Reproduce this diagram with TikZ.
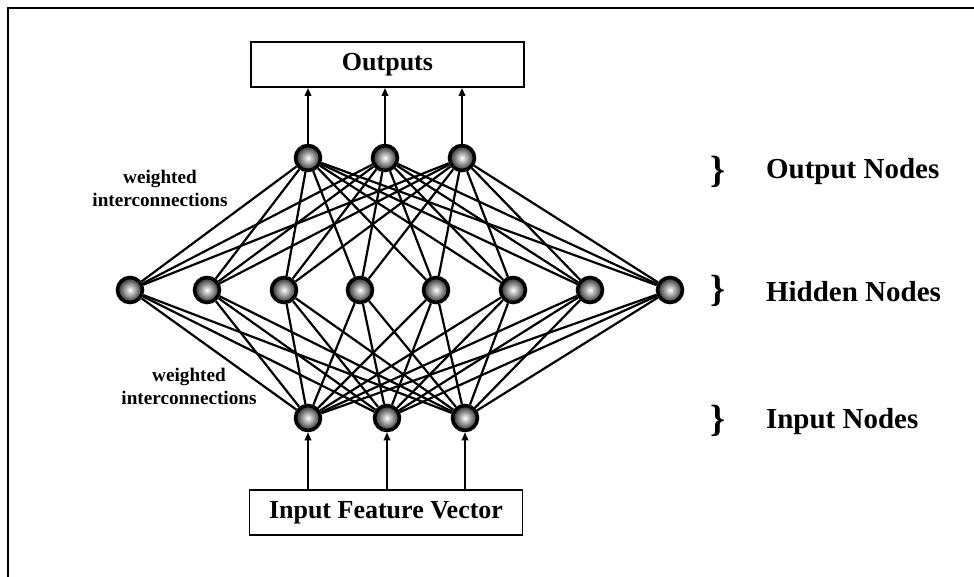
\documentclass[tikz,border=0pt]{standalone}
\usepackage{fontspec}
\setmainfont{Liberation Serif}
\usetikzlibrary{arrows.meta}
\begin{document}
\begin{tikzpicture}[x=0.5pt,y=-0.5pt,
  neuron/.style={circle,draw=black,line width=1.8pt,minimum size=12.5pt,inner sep=0pt,
    shading=radial,inner color=white,outer color=black!85},
  wire/.style={line width=1.1pt},
  feed/.style={line width=1.1pt,-{Triangle[length=4pt,width=3.2pt]}},
  box/.style={draw,line width=0.9pt,minimum width=136.5pt,minimum height=22.5pt,font=\fontsize{13}{15}\selectfont\bfseries},
  smallLabel/.style={align=center,font=\fontsize{9.6}{11.5}\selectfont\bfseries},
  layerLabel/.style={anchor=west,font=\fontsize{14.5}{16}\selectfont\bfseries},
  braceMark/.style={font=\fontsize{19}{19}\selectfont\bfseries}]
\path[use as bounding box] (0,0) rectangle (974,577);
\draw[line width=1pt] (8,577) -- (8,8) -- (974,8);

% boxes
\node[box] (outbox) at (387.5,64.5) {Outputs};
\node[box] (inbox) at (386,512.5) {Input Feature Vector};

% neurons
\foreach \x [count=\i] in {308,385,462}
  \node[neuron] (o\i) at (\x,158) {};
\foreach \x [count=\i] in {130,207,284,360,436,513,590,670}
  \node[neuron] (h\i) at (\x,290) {};
\foreach \x [count=\i] in {308,387,465}
  \node[neuron] (n\i) at (\x,418) {};

% weighted interconnections
\foreach \i in {1,...,8}
  \foreach \j in {1,2,3} {
    \draw[wire] (h\i) -- (o\j);
    \draw[wire] (h\i) -- (n\j);
  }

% arrows
\foreach \j in {1,2,3} {
  \draw[feed] (o\j) -- (o\j |- outbox.south);
  \draw[feed] (n\j |- inbox.north) -- (n\j);
}

% labels
\node[smallLabel] (wtop) at (160,188) {weighted\\interconnections};
\node[smallLabel] (wbot) at (189,386) {weighted\\interconnections};

\node[braceMark] (bo) at (718,172) {\}};
\node[braceMark] (bh) at (718,291) {\}};
\node[braceMark] (bi) at (718,421) {\}};
\node[layerLabel] (lo) at (759,172) {Output Nodes};
\node[layerLabel] (lh) at (759,292) {Hidden Nodes};
\node[layerLabel] (li) at (759,422) {Input Nodes};
\end{tikzpicture}
\end{document}
